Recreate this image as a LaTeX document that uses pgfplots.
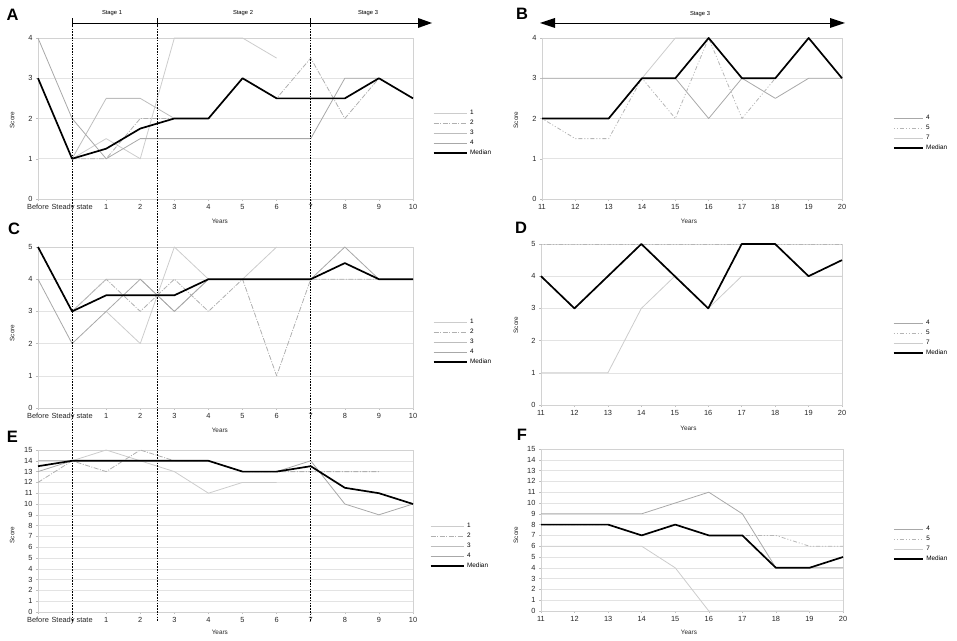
\documentclass[border=0pt]{standalone}
\usepackage{fontspec}
\setmainfont{Liberation Sans}
\usepackage{pgfplots}
\pgfplotsset{compat=1.18}
\pgfplotsset{
  panel/.style={
    scale only axis, clip=false,
    axis line style={draw=gray!35, line width=0.5pt},
    tick style={draw=gray!50, line width=0.4pt},
    major tick length=2pt, tick align=outside,
    xtick pos=bottom, ytick pos=left,
    ymajorgrids, grid style={draw=gray!22, line width=0.6pt},
    tick label style={font=\fontsize{7.4}{8}\selectfont, text=black!85},
    /pgf/number format/assume math mode=true,
    label style={font=\fontsize{6.4}{7}\selectfont, text=black!85},
    xlabel=Years, ylabel=Score,
    legend style={draw=none, fill=none, inner sep=0pt, outer sep=0pt,
      anchor=north west, font=\fontsize{6.4}{7}\selectfont,
      row sep=0pt, column sep=1pt,
      nodes={inner sep=1.5pt, text height=5pt, text depth=2pt}},
    legend cell align=left,
    every axis plot/.append style={line join=round, line width=0.8pt},
  },
  leftp/.style={panel, xmin=0, xmax=11, xtick={0,...,11},
    xticklabels={Before, Steady state, 1,2,3,4,5,6,7,8,9,10},
    width=375pt,
    legend image code/.code={\draw[##1] (0pt,0pt) -- (33pt,0pt);}},
  rightp/.style={panel, xmin=11, xmax=20, xtick={11,...,20},
    legend image code/.code={\draw[##1] (0pt,0pt) -- (29pt,0pt);}},
  sA/.style={draw=gray!40},
  sB/.style={draw=gray!62, dash pattern=on 5pt off 1.5pt on 1pt off 1.5pt},
  sC/.style={draw=gray!52},
  sD/.style={draw=gray!68},
  sF/.style={draw=gray!58, dash pattern=on 1pt off 2pt on 1pt off 2pt on 4pt off 2pt},
  sG/.style={draw=gray!40},
  med/.style={draw=black, line width=1.7pt},
}
\begin{document}
\begin{tikzpicture}[x=1pt,y=1pt]
\path[use as bounding box] (0,0) rectangle (957,640);

% ---------- Panel A ----------
\begin{axis}[leftp, at={(38pt,441pt)}, anchor=south west, height=161pt,
  ymin=0, ymax=4, ytick={0,...,4},
  xlabel style={at={(axis description cs:0.485,-0.137)}, anchor=center},
  ylabel style={at={(axis description cs:-0.069,0.49)}, anchor=center},
  legend style={at={(1.053,0.565)}}]
\addplot[sA] coordinates {(1,1) (2,1.5) (3,1) (4,4) (5,4) (6,4) (7,3.5)};
\addplot[sB] coordinates {(1,1) (2,1) (3,2) (4,2) (5,2) (6,3) (7,2.5) (8,3.5) (9,2) (10,3)};
\addplot[sC] coordinates {(1,1) (2,2.5) (3,2.5) (4,2)};
\addplot[sD] coordinates {(0,4) (1,2) (2,1) (3,1.5) (4,1.5) (5,1.5) (6,1.5) (7,1.5) (8,1.5) (9,3) (10,3)};
\addplot[med] coordinates {(0,3) (1,1) (2,1.25) (3,1.75) (4,2) (5,2) (6,3) (7,2.5) (8,2.5) (9,2.5) (10,3) (11,2.5)};
\legend{1,2,3,4,Median}
\end{axis}

% ---------- Panel B ----------
\begin{axis}[rightp, at={(542pt,441pt)}, anchor=south west, width=300pt, height=161pt,
  ymin=0, ymax=4, ytick={0,...,4},
  xlabel style={at={(axis description cs:0.49,-0.137)}, anchor=center},
  ylabel style={at={(axis description cs:-0.087,0.49)}, anchor=center},
  legend style={at={(1.17,0.534)}}]
\addplot[sD] coordinates {(11,3) (12,3) (13,3) (14,3) (15,3) (16,2) (17,3) (18,2.5) (19,3) (20,3)};
\addplot[sF] coordinates {(11,2) (12,1.5) (13,1.5) (14,3) (15,2) (16,4) (17,2) (18,3) (19,4) (20,3)};
\addplot[sG] coordinates {(11,2) (12,2) (13,2) (14,3) (15,4) (16,4) (17,3) (18,3) (19,4) (20,3)};
\addplot[med] coordinates {(11,2) (12,2) (13,2) (14,3) (15,3) (16,4) (17,3) (18,3) (19,4) (20,3)};
\legend{4,5,7,Median}
\end{axis}

% ---------- Panel C ----------
\begin{axis}[leftp, at={(38pt,232pt)}, anchor=south west, height=161pt,
  ymin=0, ymax=5, ytick={0,...,5},
  xlabel style={at={(axis description cs:0.485,-0.137)}, anchor=center},
  ylabel style={at={(axis description cs:-0.069,0.466)}, anchor=center},
  legend style={at={(1.053,0.565)}}]
\addplot[sA] coordinates {(1,3) (2,3) (3,2) (4,5) (5,4) (6,4) (7,5)};
\addplot[sB] coordinates {(1,3) (2,4) (3,3) (4,4) (5,3) (6,4) (7,1) (8,4) (9,4) (10,4)};
\addplot[sC] coordinates {(1,3) (2,4) (3,4) (4,3) (5,4)};
\addplot[sD] coordinates {(0,4) (1,2) (2,3) (3,4) (4,3) (5,4) (6,4) (7,4) (8,4) (9,5) (10,4) (11,4)};
\addplot[med] coordinates {(0,5) (1,3) (2,3.5) (3,3.5) (4,3.5) (5,4) (6,4) (7,4) (8,4) (9,4.5) (10,4) (11,4)};
\legend{1,2,3,4,Median}
\end{axis}

% ---------- Panel D ----------
\begin{axis}[rightp, at={(541pt,235pt)}, anchor=south west, width=301pt, height=161pt,
  ymin=0, ymax=5, ytick={0,...,5},
  xlabel style={at={(axis description cs:0.49,-0.143)}, anchor=center},
  ylabel style={at={(axis description cs:-0.083,0.497)}, anchor=center},
  legend style={at={(1.169,0.54)}}]
\addplot[sD] coordinates {(11,4) (12,3) (13,4) (14,5) (15,4) (16,3) (17,5) (18,5) (19,4)};
\addplot[sF] coordinates {(11,5) (12,5) (13,5) (14,5) (15,5) (16,5) (17,5) (18,5) (19,5) (20,5)};
\addplot[sG] coordinates {(11,1) (12,1) (13,1) (14,3) (15,4) (16,3) (17,4) (18,4) (19,4) (20,4)};
\addplot[med] coordinates {(11,4) (12,3) (13,4) (14,5) (15,4) (16,3) (17,5) (18,5) (19,4) (20,4.5)};
\legend{4,5,7,Median}
\end{axis}

% ---------- Panel E ----------
\begin{axis}[leftp, at={(38pt,28pt)}, anchor=south west, height=162pt,
  ymin=0, ymax=15, ytick={0,...,15},
  xlabel style={at={(axis description cs:0.485,-0.123)}, anchor=center},
  ylabel style={at={(axis description cs:-0.069,0.475)}, anchor=center},
  legend style={at={(1.045,0.562)}}]
\addplot[sA] coordinates {(0,14) (1,14) (2,15) (3,14) (4,13) (5,11) (6,12) (7,12)};
\addplot[sB] coordinates {(0,12) (1,14) (2,13) (3,15) (4,14) (5,14) (6,13) (7,13) (8,13) (9,13) (10,13)};
\addplot[sC] coordinates {(0,14) (1,14) (2,14) (3,14) (4,14) (5,14)};
\addplot[sD] coordinates {(0,13) (1,14) (2,14) (3,14) (4,14) (5,14) (6,13) (7,13) (8,14) (9,10) (10,9) (11,10)};
\addplot[med] coordinates {(0,13.5) (1,14) (2,14) (3,14) (4,14) (5,14) (6,13) (7,13) (8,13.5) (9,11.5) (10,11) (11,10)};
\legend{1,2,3,4,Median}
\end{axis}

% ---------- Panel F ----------
\begin{axis}[rightp, at={(541pt,29pt)}, anchor=south west, width=302pt, height=162pt,
  ymin=0, ymax=15, ytick={0,...,15},
  xlabel style={at={(axis description cs:0.49,-0.13)}, anchor=center},
  ylabel style={at={(axis description cs:-0.083,0.469)}, anchor=center},
  legend style={at={(1.166,0.537)}}]
\addplot[sD] coordinates {(11,9) (12,9) (13,9) (14,9) (15,10) (16,11) (17,9) (18,4) (19,4) (20,4)};
\addplot[sF] coordinates {(11,8) (12,8) (13,8) (14,7) (15,8) (16,7) (17,7) (18,7) (19,6) (20,6)};
\addplot[sG] coordinates {(11,6) (12,6) (13,6) (14,6) (15,4) (16,0) (17,0) (18,0) (19,0)};
\addplot[med] coordinates {(11,8) (12,8) (13,8) (14,7) (15,8) (16,7) (17,7) (18,4) (19,4) (20,5)};
\legend{4,5,7,Median}
\end{axis}

% ---------- annotations ----------
\foreach \xx in {72.1,157.3,310.7}
  \draw[black, line width=0.7pt, dash pattern=on 1.6pt off 1.2pt] (\xx,617) -- (\xx,18);
\draw[line width=0.8pt] (72,617) -- (420,617);
\fill (418,622) -- (432,617) -- (418,612) -- cycle;
\draw[line width=0.8pt] (72.1,612.5) -- (72.1,621.5);
\draw[line width=1.4pt] (157.3,612.5) -- (157.3,621.5);
\draw[line width=1.4pt] (310.7,612.5) -- (310.7,621.5);
\node[font=\fontsize{5.8}{6}\selectfont] at (112,627) {Stage 1};
\node[font=\fontsize{5.8}{6}\selectfont] at (243,627) {Stage 2};
\node[font=\fontsize{5.8}{6}\selectfont] at (368,627) {Stage 3};
\draw[line width=0.8pt] (553,617) -- (832,617);
\fill (555,622) -- (540,617) -- (555,612) -- cycle;
\fill (830,622) -- (845,617) -- (830,612) -- cycle;
\node[font=\fontsize{5.8}{6}\selectfont] at (700,626) {Stage 3};

\node[font=\bfseries\fontsize{16.5}{17}\selectfont] at (12.5,625.5) {A};
\node[font=\bfseries\fontsize{16.5}{17}\selectfont] at (522,626) {B};
\node[font=\bfseries\fontsize{16.5}{17}\selectfont] at (14,411) {C};
\node[font=\bfseries\fontsize{16.5}{17}\selectfont] at (521,412) {D};
\node[font=\bfseries\fontsize{16.5}{17}\selectfont] at (12.5,203) {E};
\node[font=\bfseries\fontsize{16.5}{17}\selectfont] at (522,205) {F};
\end{tikzpicture}
\end{document}
